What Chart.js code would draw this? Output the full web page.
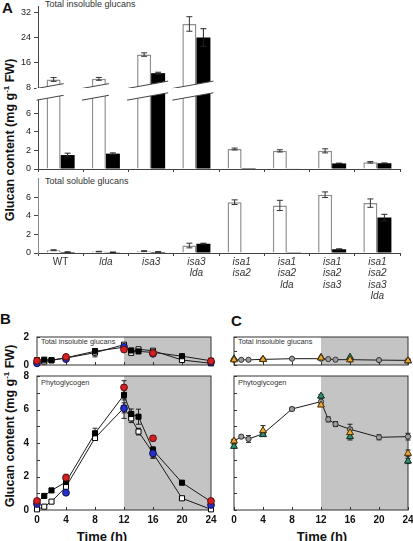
<!DOCTYPE html>
<html>
<head>
<meta charset="utf-8">
<script src="https://cdn.jsdelivr.net/npm/chart.js@4.4.1/dist/chart.umd.min.js"></script>
<style>
  body { margin: 0; width: 413px; height: 541px; position: relative; overflow: hidden; background: #fff;
         font-family: "Liberation Sans", Arial, sans-serif; color: #222; }
  canvas { position: absolute; }
  .txt { position: absolute; white-space: nowrap; line-height: 1; }
  .panel { font-weight: bold; font-size: 15px; color: #111; }
  .inner { font-size: 9px; color: #333; }
  .small { font-size: 7.4px; color: #333; }
  .ytitle { font-weight: bold; font-size: 12.5px; color: #111; transform: translate(-50%, -50%) rotate(-90deg); }
  .ytitle sup { font-size: 8px; }
  .xtitle { font-weight: bold; font-size: 13px; color: #111; transform: translateX(-50%); }
</style>
</head>
<body>
<div class="txt panel" style="left:2px;top:0px">A</div>
<div class="txt inner" style="left:45px;top:0px">Total insoluble glucans</div>
<div class="txt inner" style="left:45px;top:177px">Total soluble glucans</div>
<div class="txt ytitle" style="left:10px;top:140px">Glucan content (mg g<sup>-1</sup> FW)</div>

<div class="txt panel" style="left:0px;top:311px">B</div>
<div class="txt panel" style="left:231px;top:313px">C</div>
<div class="txt small" style="left:41px;top:338px">Total insoluble glucans</div>
<div class="txt small" style="left:41px;top:379px">Phytoglycogen</div>
<div class="txt small" style="left:238px;top:338px">Total insoluble glucans</div>
<div class="txt small" style="left:238px;top:379px">Phytoglycogen</div>
<div class="txt ytitle" style="left:10px;top:426px">Glucan content (mg g<sup>-1</sup> FW)</div>
<div class="txt xtitle" style="left:102px;top:530px">Time (h)</div>
<div class="txt xtitle" style="left:322px;top:530px">Time (h)</div>

<script>
// Panel A: end of day (white) and end of night (black) glucans per genotype
const genotypes = [['WT'], ['lda'], ['isa3'], ['isa3', 'lda'], ['isa1', 'isa2'],
  ['isa1', 'isa2', 'lda'], ['isa1', 'isa2', 'isa3'], ['isa1', 'isa2', 'isa3', 'lda']];
const insolDay = [10.7, 10.9, 18.6, 28.3, 2.15, 1.95, 1.95, 0.72];
const insolDayErr = [0.6, 0.45, 0.55, 2.3, 0.1, 0.12, 0.22, 0.08];
const insolNight = [1.5, 1.65, 12.7, 24.0, 0.1, 0.06, 0.6, 0.62];
const insolNightErr = [0.2, 0.08, 0.3, 2.8, 0, 0, 0.03, 0.03];
const solDay = [0.3, 0.15, 0.2, 0.8, 5.45, 5.1, 6.25, 5.35];
const solDayErr = [0.05, 0.03, 0.05, 0.25, 0.25, 0.55, 0.3, 0.45];
const solNight = [0.1, 0.08, 0.12, 1.0, 0.05, 0.04, 0.4, 3.8];
const solNightErr = [0.02, 0.02, 0.02, 0.05, 0, 0, 0.05, 0.35];

// tick labels of panel A
const insolUpperTicks = [8, 16, 24, 32];
const insolLowerTicks = [0, 2, 4, 6];
const solTicks = [0, 2, 4, 6];

// Panels B and C: time courses
const hours = [0, 1, 2, 4, 8, 12, 13, 14, 16, 20, 24];
const fewHours = [0, 4, 12, 16, 24];

const bInsolFilled = [0.35, 0.38, 0.35, 0.52, 0.98, 1.27, 1.04, 0.97, 0.9, 0.63, 0.3];
const bInsolFilledErr = [0.05, 0.05, 0.03, 0.05, 0.2, 0.08, 0.06, 0.06, 0.05, 0.04, 0.03];
const bInsolOpen = [0.2, 0.25, 0.33, 0.5, 0.88, 1.45, 0.87, 1.12, 1.02, 0.36, 0.12];
const bInsolOpenErr = [0.03, 0.03, 0.03, 0.05, 0.3, 0.06, 0.06, 0.05, 0.05, 0.03, 0.02];
const bInsolRed = [0.3, 0.58, 1.1, 0.85, 0.28];
const bInsolBlue = [0.12, 0.42, 1.3, 0.8, 0.2];

const bPhytoFilled = [0.45, 0.84, 1.17, 1.67, 4.58, 6.87, 5.73, 5.57, 3.58, 1.63, 0.5];
const bPhytoFilledErr = [0.05, 0.05, 0.05, 0.1, 0.3, 0.3, 0.3, 0.45, 0.2, 0.1, 0.05];
const bPhytoOpen = [0.04, 0.2, 0.5, 1.39, 4.3, 6.1, 5.47, 4.68, 3.4, 0.7, 0.04];
const bPhytoOpenErr = [0.03, 0.05, 0.05, 0.1, 0.15, 0.3, 0.25, 0.2, 0.25, 0.05, 0.03];
const bPhytoRed = [0.54, 1.93, 7.32, 4.28, 0.54];
const bPhytoRedErr = [0.05, 0.2, 0.4, 0.15, 0.05];
const bPhytoBlue = [0.36, 1.03, 6.07, 3.38, 0.3];
const bPhytoBlueErr = [0.05, 0.1, 0.6, 0.3, 0.05];

const cInsolGray = [0.37, 0.37, 0.37, 0.4, 0.45, 0.45, 0.42, 0.38, 0.38, 0.35, 0.33];
const cInsolOrange = [0.37, 0.4, 0.5, 0.37, 0.3];
const cInsolGreen = [0.45, 0.4, 0.55, 0.56, 0.3];
const cPhytoGray = [4.1, 4.38, 4.24, 4.55, 6.03, 6.47, 5.41, 5.13, 4.82, 4.34, 4.38];
const cPhytoGrayErr = [0.1, 0.08, 0.2, 0.15, 0.1, 0.2, 0.15, 0.15, 0.3, 0.15, 0.2];
const cPhytoOrange = [4.12, 4.74, 6.27, 4.62, 3.38];
const cPhytoOrangeErr = [0.1, 0.3, 0.1, 0.3, 0.2];
const cPhytoGreen = [3.8, 4.5, 6.8, 4.38, 2.92];
const cPhytoGreenErr = [0.1, 0.1, 0.1, 0.2, 0.15];

Chart.defaults.font.family = '"Liberation Sans", Arial, sans-serif';
Chart.defaults.color = '#222';
Chart.defaults.animation = false;
Chart.defaults.plugins.legend.display = false;
Chart.defaults.plugins.tooltip.enabled = false;

function place(left, top, w, h) {
  const c = document.createElement('canvas');
  c.width = w; c.height = h;
  c.style.left = left + 'px'; c.style.top = top + 'px';
  c.style.width = w + 'px'; c.style.height = h + 'px';
  document.body.appendChild(c);
  return c.getContext('2d');
}

// fixed axis thickness so the separate canvases line up
function fitTo(size) {
  return s => {
    if (s.isHorizontal()) s.height = size; else s.width = size;
    s.paddingTop = s.paddingBottom = s.paddingLeft = s.paddingRight = 0;
  };
}

function drawErrors(chart, o) {
  const { ctx, chartArea: a } = chart;
  ctx.save();
  if (o.clip) { ctx.beginPath(); ctx.rect(a.left, a.top, a.right - a.left, a.bottom - a.top); ctx.clip(); }
  ctx.lineWidth = 1;
  chart.data.datasets.forEach((ds, i) => {
    if (!ds.errors) return;
    const meta = chart.getDatasetMeta(i);
    const ys = chart.scales[meta.yAxisID];
    meta.data.forEach((el, j) => {
      const e = ds.errors[j];
      if (!e) return;
      const raw = ds.data[j];
      const v = typeof raw === 'object' ? raw.y : raw;
      const t = ys.getPixelForValue(v + e), b = ys.getPixelForValue(v - e);
      ctx.strokeStyle = ds.errorColor || '#222';
      ctx.beginPath();
      ctx.moveTo(el.x, t); ctx.lineTo(el.x, b);
      ctx.moveTo(el.x - o.cap, t); ctx.lineTo(el.x + o.cap, t);
      ctx.moveTo(el.x - o.cap, b); ctx.lineTo(el.x + o.cap, b);
      ctx.stroke();
    });
  });
  ctx.restore();
}

const errorBarPlugin = {
  id: 'errorBars',
  beforeDatasetsDraw(chart, args, o) { if (o.behind) drawErrors(chart, o); },
  afterDatasetsDraw(chart, args, o) { if (!o.behind) drawErrors(chart, o); }
};

// slanted cut for the broken y axis of the insoluble glucans
const breakPlugin = {
  id: 'axisBreak',
  afterDatasetsDraw(chart, args, o) {
    const { ctx, chartArea: a } = chart;
    const y = chart.scales.y;
    const sets = chart.data.datasets;
    ctx.save();
    ctx.lineWidth = 1; ctx.strokeStyle = '#444'; ctx.fillStyle = '#fff';
    chart.data.labels.forEach((lab, i) => {
      const cut = sets.map((d, j) => d.data[i] > o.limit ? chart.getDatasetMeta(j).data[i] : null).filter(Boolean);
      if (!cut.length) return;
      const last = cut[cut.length - 1];
      const x1 = cut[0].x - cut[0].width / 2 - 10;
      const x2 = last.x + last.width / 2 + 3;
      const yl = y.getPixelForValue(o.at) + 0.5;
      const yr = yl - o.slope * (x2 - x1);
      const edge = o.side === 'bottom' ? a.bottom + 4 : a.top - 2;
      ctx.beginPath();
      ctx.moveTo(x1, edge); ctx.lineTo(x1, yl); ctx.lineTo(x2, yr); ctx.lineTo(x2, edge);
      ctx.closePath(); ctx.fill();
      ctx.beginPath(); ctx.moveTo(x1, yl); ctx.lineTo(x2, yr); ctx.stroke();
    });
    ctx.restore();
  }
};

// night shading, box and inward tick marks for B and C
const framePlugin = {
  id: 'frame',
  beforeDatasetsDraw(chart, args, o) {
    const { ctx, chartArea: a, scales: { x, y } } = chart;
    const xs = x.getPixelForValue(o.nightFrom);
    ctx.save();
    ctx.fillStyle = '#c4c4c4';
    ctx.fillRect(xs, a.top, a.right - xs, a.bottom - a.top);
    ctx.strokeStyle = '#333'; ctx.lineWidth = 1;
    ctx.strokeRect(a.left, a.top, a.right - a.left, a.bottom - a.top);
    ctx.beginPath();
    y.ticks.forEach(t => {
      const py = Math.round(y.getPixelForValue(t.value)) + 0.5;
      ctx.moveTo(a.left, py); ctx.lineTo(a.left + 3, py);
    });
    x.ticks.forEach(t => {
      const px = Math.round(x.getPixelForValue(t.value)) + 0.5;
      ctx.moveTo(px, a.bottom); ctx.lineTo(px, a.bottom - 3);
    });
    ctx.stroke();
    ctx.restore();
  }
};

function barSets(day, dayErr, night, nightErr) {
  return [
    { data: day, errors: dayErr, errorColor: '#333', backgroundColor: '#fff', borderColor: '#8f8f8f', borderWidth: 1.5 },
    { data: night, errors: nightErr, errorColor: '#222', backgroundColor: '#000', borderColor: '#000', borderWidth: 0 }
  ];
}

function aY(min, max, tickValues, color) {
  return {
    min, max, afterFit: fitTo(38),
    afterBuildTicks: s => { s.ticks = tickValues.map(v => ({ value: v })); },
    ticks: { padding: 3, color: '#222', font: { size: 9 } },
    grid: { drawOnChartArea: false, tickLength: 4, color: '#444' },
    border: { color: color || '#444', width: 1 }
  };
}

function aX(showLabels, height) {
  return {
    type: 'category', offset: true, afterFit: fitTo(height),
    grid: { offset: true, drawOnChartArea: false, tickLength: 3, color: '#444' },
    border: { color: '#444' },
    ticks: {
      display: showLabels, autoSkip: false, maxRotation: 0, padding: 0, color: '#333',
      font: c => ({ size: 10, style: c.index === 0 ? 'normal' : 'italic', lineHeight: 1.15 })
    }
  };
}

function barChart(ctx, datasets, o) {
  return new Chart(ctx, {
    type: 'bar',
    data: { labels: genotypes, datasets },
    options: {
      responsive: false,
      layout: { padding: { top: o.padTop, right: 13, bottom: o.padBottom, left: 0 } },
      datasets: { bar: { categoryPercentage: 0.62, barPercentage: 1 } },
      scales: { x: o.x, y: o.y },
      plugins: { errorBars: { behind: false, clip: true, cap: 3 }, axisBreak: o.brk || {} }
    },
    plugins: o.brk ? [errorBarPlugin, breakPlugin] : [errorBarPlugin]
  });
}

// A, insoluble, upper part of the broken axis
barChart(place(0, 0, 413, 92), barSets(insolDay, insolDayErr, insolNight, insolNightErr), {
  padTop: 6, padBottom: 4,
  x: { display: false, offset: true },
  y: aY(8, 34, insolUpperTicks),
  brk: { side: 'bottom', at: 8, limit: 8, slope: 0.18 }
});
// A, insoluble, lower part
barChart(place(0, 84, 413, 91), barSets(insolDay, insolDayErr, insolNight, insolNightErr), {
  padTop: 5.9, padBottom: 0,
  x: aX(false, 6),
  y: aY(0, 8.5, insolLowerTicks),
  brk: { side: 'top', at: 7.45, limit: 8, slope: 0.18 }
});
// A, soluble
barChart(place(0, 170, 413, 138), barSets(solDay, solDayErr, solNight, solNightErr), {
  padTop: 8.4, padBottom: 0,
  x: aX(true, 55),
  y: aY(0, 8, solTicks, '#8a8a8a')
});

function pts(times, vals) { return times.map((t, i) => ({ x: t, y: vals[i] })); }
function series(times, vals, errs, style) {
  return Object.assign({ data: pts(times, vals), errors: errs, clip: false, borderWidth: 1,
    borderColor: '#1a1a1a', pointBorderWidth: 1, errorColor: '#222' }, style);
}

const sqFilled = { pointStyle: 'rect', pointRadius: 3.6, pointBackgroundColor: '#000', pointBorderColor: '#000' };
const sqOpen = { pointStyle: 'rect', pointRadius: 3.6, pointBackgroundColor: '#fff', pointBorderColor: '#000' };
const dotRed = { showLine: false, pointStyle: 'circle', pointRadius: 3.4, pointBackgroundColor: '#d42020', pointBorderColor: '#5b0f0f' };
const dotBlue = { showLine: false, pointStyle: 'circle', pointRadius: 3.4, pointBackgroundColor: '#2430c8', pointBorderColor: '#0d1150' };
const triOrange = { showLine: false, pointStyle: 'triangle', pointRadius: 4, pointBackgroundColor: '#eaa63a', pointBorderColor: '#4a3000' };
const triGreen = { showLine: false, pointStyle: 'triangle', pointRadius: 4, pointBackgroundColor: '#2f9070', pointBorderColor: '#0c2e22' };
const dotGray = { pointStyle: 'circle', pointRadius: 2.6, pointBackgroundColor: '#9c9c9c', pointBorderColor: '#333' };

function timeChart(ctx, datasets, o) {
  return new Chart(ctx, {
    type: 'line',
    data: { datasets },
    options: {
      responsive: false,
      layout: { padding: { top: o.padTop, right: o.padRight, left: 0, bottom: 0 } },
      scales: {
        x: {
          type: 'linear', min: 0, max: 24, afterFit: fitTo(o.xH),
          ticks: { stepSize: 4, display: o.xLabels, padding: 4, color: '#111', font: { size: 10, weight: 'bold' } },
          grid: { display: false, drawTicks: false }, border: { display: false }
        },
        y: {
          min: 0, max: o.yMax, afterFit: fitTo(o.yW),
          ticks: { stepSize: 1, display: o.yLabels, padding: 8, color: '#111', font: { size: 10, weight: 'bold' },
            callback: v => (v % 2 === 0 ? v : '') },
          grid: { display: false, drawTicks: false }, border: { display: false }
        }
      },
      plugins: { frame: { nightFrom: 12 }, errorBars: { behind: true, clip: false, cap: 2.5 } }
    },
    plugins: [framePlugin, errorBarPlugin]
  });
}

// B
timeChart(place(0, 330, 220, 40), [
  series(fewHours, bInsolRed, null, dotRed),
  series(fewHours, bInsolBlue, null, dotBlue),
  series(hours, bInsolFilled, bInsolFilledErr, sqFilled),
  series(hours, bInsolOpen, bInsolOpenErr, sqOpen)
], { padTop: 7, padRight: 9, xH: 2, yW: 37, yMax: 2, xLabels: false, yLabels: true });

timeChart(place(0, 370, 220, 156), [
  series(fewHours, bPhytoRed, bPhytoRedErr, dotRed),
  series(fewHours, bPhytoBlue, bPhytoBlueErr, dotBlue),
  series(hours, bPhytoFilled, bPhytoFilledErr, sqFilled),
  series(hours, bPhytoOpen, bPhytoOpenErr, sqOpen)
], { padTop: 6, padRight: 9, xH: 16, yW: 37, yMax: 8, xLabels: true, yLabels: true });

// C
timeChart(place(200, 330, 213, 40), [
  series(fewHours, cInsolOrange, null, triOrange),
  series(fewHours, cInsolGreen, null, triGreen),
  series(hours, cInsolGray, null, dotGray)
], { padTop: 7, padRight: 5, xH: 2, yW: 34, yMax: 2, xLabels: false, yLabels: false });

timeChart(place(200, 370, 213, 156), [
  series(fewHours, cPhytoOrange, cPhytoOrangeErr, triOrange),
  series(fewHours, cPhytoGreen, cPhytoGreenErr, triGreen),
  series(hours, cPhytoGray, cPhytoGrayErr, dotGray)
], { padTop: 6, padRight: 5, xH: 16, yW: 34, yMax: 8, xLabels: true, yLabels: false });
</script>
</body>
</html>
